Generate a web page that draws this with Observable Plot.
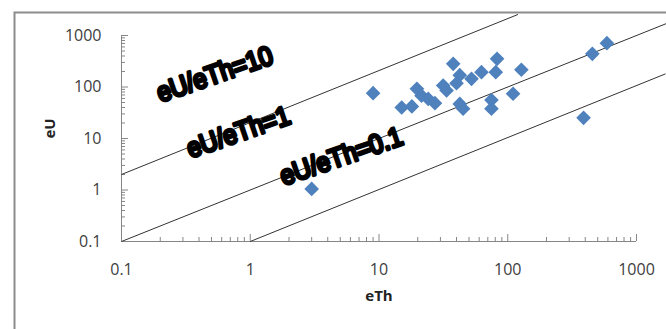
<!DOCTYPE html>
<html><head><meta charset="utf-8">
<script src="https://cdn.jsdelivr.net/npm/d3@7"></script>
<script src="https://cdn.jsdelivr.net/npm/@observablehq/plot@0.6"></script>
<style>body{margin:0;background:#fff}</style>
</head><body><div id="chart"></div>
<script>
// sample points
const eTh = [3, 9, 15, 18, 19.7, 21.4, 24.1, 27.2, 31.5, 33.5, 37.7, 40, 42.4, 42.4, 45, 52.3, 62.5, 82.6, 80.7, 74.7, 74.7, 110, 127.6, 388, 454, 589];
const eU  = [1.05, 76, 40, 42, 92, 68, 59, 48.5, 107, 85.5, 282, 118, 170, 47, 37.8, 144, 194, 352, 194, 56, 38, 74, 216, 25.2, 441, 709];

// reference lines (as drawn)
const lineNames = ["eU/eTh=10", "eU/eTh=1", "eU/eTh=0.1"];
const lineX1 = [0.1, 0.1, 1];
const lineY1 = [2, 0.1, 0.1];
const lineX2 = [120, 2000, 1680];
const lineY2 = [2560, 2000, 180];

// annotation labels
const labelText = ["eU/eTh=10", "eU/eTh=1", "eU/eTh=0.1"];
const labelX = [0.53, 0.81, 5.1];
const labelY = [175, 13.1, 4.47];

// axis ticks
const majorTicks = [0.1, 1, 10, 100, 1000];
const minorSteps = [2, 3, 4, 5, 6, 7, 8, 9];
const minorTicks = majorTicks.slice(0, -1).flatMap(d => minorSteps.map(s => +(d * s).toPrecision(3)));

const lines = lineNames.map((n, i) => ({name: n, x1: lineX1[i], y1: lineY1[i], x2: lineX2[i], y2: lineY2[i]}));
const labels = labelText.map((t, i) => ({t, x: labelX[i], y: labelY[i]}));
const pts = eTh.map((x, i) => ({x, y: eU[i]}));

const axisColor = "#868686";
const fmt = d => String(d);

const chart = Plot.plot({
  width: 666,
  height: 329,
  marginLeft: 121,
  marginRight: 30,
  marginTop: 35,
  marginBottom: 88,
  style: {fontFamily: "Open Sans", background: "#fff"},
  x: {type: "log", domain: [0.1, 1000], label: null, axis: null},
  y: {type: "log", domain: [0.1, 1000], label: null, axis: null},
  marks: [
    Plot.frame({stroke: "#8c8c8c", strokeWidth: 2, insetLeft: -107, insetTop: -23, insetRight: -60, insetBottom: -100}),
    Plot.ruleY([0.1], {stroke: axisColor}),
    Plot.ruleX([0.1], {stroke: axisColor}),
    Plot.axisX(minorTicks, {tickSize: -4, tickFormat: () => "", stroke: axisColor, label: null}),
    Plot.axisX(majorTicks, {tickSize: -7, tickFormat: () => "", stroke: axisColor, label: null}),
    Plot.axisX(majorTicks, {tickSize: 0, tickPadding: 22, tickFormat: fmt, fontSize: 16, fill: "#404040", label: null}),
    Plot.axisY(minorTicks, {tickSize: -4, tickFormat: () => "", stroke: axisColor, label: null}),
    Plot.axisY(majorTicks, {tickSize: -7, tickFormat: () => "", stroke: axisColor, label: null}),
    Plot.axisY(majorTicks, {tickSize: 0, tickPadding: 20, tickFormat: fmt, fontSize: 16, fill: "#404040", label: null}),
    Plot.link(lines, {x1: "x1", y1: "y1", x2: "x2", y2: "y2", stroke: "#333", strokeWidth: 1}),
    Plot.dot(pts, {x: "x", y: "y", symbol: "diamond2", r: 6.6, fill: "#4f81bd", stroke: "none"}),
    Plot.text(labels, {x: "x", y: "y", text: "t", rotate: -19, fontSize: 27, fontFamily: "Liberation Sans",
      fill: "white", stroke: "black", strokeWidth: 3.4, paintOrder: "fill"}),
    Plot.text(["eU"], {frameAnchor: "left", dx: -71, rotate: -90, fontSize: 15, fontWeight: "bold", fill: "#222"}),
    Plot.text(["eTh"], {frameAnchor: "bottom", dy: 59, fontSize: 15, fontWeight: "bold", fill: "#222"})
  ]
});
// condense the annotation glyphs horizontally (narrow WordArt look)
d3.select(chart).selectAll("text").filter(function () { return this.textContent.startsWith("eU/eTh"); })
  .each(function () {
    const t = this.getAttribute("transform") || "";
    this.setAttribute("transform", t + " scale(0.9,1)");
  });
document.getElementById("chart").appendChild(chart);
</script>
</body></html>
